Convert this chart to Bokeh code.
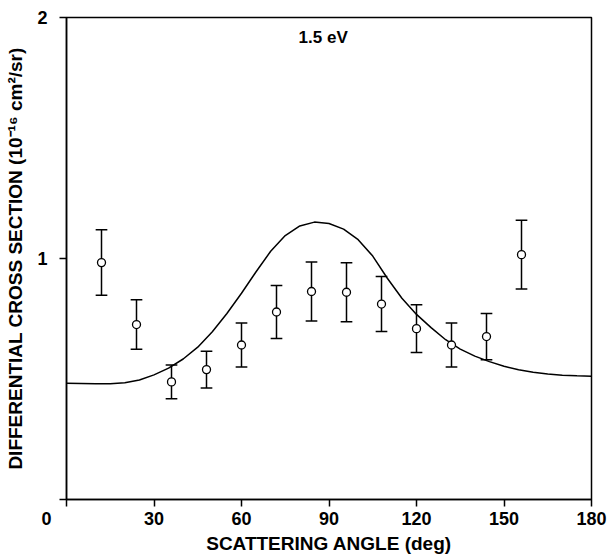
from bokeh.plotting import figure
from bokeh.models import Range1d, FixedTicker, Label
from bokeh.embed import file_html
from bokeh.resources import INLINE

# measured data points (scattering angle, deg)
angle = [12, 24, 36, 48, 60, 72, 84, 96, 108, 120, 132, 144, 156]
dcs = [0.983, 0.726, 0.488, 0.539, 0.641, 0.778, 0.863, 0.860, 0.811, 0.709, 0.641, 0.676, 1.016]
err = [0.136, 0.103, 0.070, 0.076, 0.091, 0.110, 0.122, 0.122, 0.114, 0.099, 0.091, 0.096, 0.143]

# theory curve
curve_angle = [0, 5, 10, 15, 20, 25, 30, 35, 40, 45, 50, 55, 60, 65, 70, 75, 80, 85, 90,
               95, 100, 105, 110, 115, 120, 125, 130, 135, 140, 145, 150, 155, 160, 165, 170, 175, 180]
curve_dcs = [0.482, 0.481, 0.480, 0.480, 0.484, 0.496, 0.517, 0.545, 0.583, 0.632, 0.696, 0.772,
             0.856, 0.945, 1.030, 1.095, 1.135, 1.151, 1.145, 1.122, 1.078, 1.010, 0.918, 0.835,
             0.768, 0.713, 0.663, 0.624, 0.595, 0.572, 0.553, 0.538, 0.528, 0.521, 0.516, 0.513, 0.511]

x_ticks = [0, 30, 60, 90, 120, 150, 180]
y_ticks = [0, 1, 2]

FONT = "Liberation Sans"

p = figure(width=608, height=556, output_backend="svg", toolbar_location=None,
           x_range=Range1d(0, 180), y_range=Range1d(0, 2),
           min_border_left=66, min_border_right=17, min_border_top=17, min_border_bottom=53)
p.background_fill_color = "white"
p.border_fill_color = "white"
p.outline_line_color = "black"
p.outline_line_width = 1.5
p.xgrid.visible = False
p.ygrid.visible = False

for ax in (p.xaxis[0], p.yaxis[0]):
    ax.axis_line_width = 1.5
    ax.axis_line_color = "black"
    ax.major_tick_line_width = 1.5
    ax.major_tick_line_color = "black"
    ax.major_tick_out = 7
    ax.major_tick_in = 0
    ax.minor_tick_line_color = None
    ax.major_label_text_font = FONT
    ax.major_label_text_font_size = "18px"
    ax.major_label_text_font_style = "bold"
    ax.major_label_text_color = "black"
    ax.axis_label_text_font = FONT
    ax.axis_label_text_font_size = "19px"
    ax.axis_label_text_font_style = "bold"
    ax.axis_label_text_color = "black"

p.xaxis.ticker = FixedTicker(ticks=x_ticks)
p.yaxis.ticker = FixedTicker(ticks=y_ticks)
# the "0" of the angle axis sits left of the corner: pad it with figure spaces
p.xaxis.major_label_overrides = {0: "0\u2007\u2007\u2007\u2007"}
p.yaxis.major_label_overrides = {0: ""}
p.xaxis.major_label_standoff = 2
p.yaxis.major_label_standoff = 12
p.xaxis.axis_label = "SCATTERING ANGLE (deg)"
p.yaxis.axis_label = "DIFFERENTIAL CROSS SECTION (10\u207b\u00b9\u2076 cm\u00b2/sr)"
p.xaxis.axis_label_standoff = 1
p.yaxis.axis_label_standoff = 8

# theory curve
p.line(curve_angle, curve_dcs, line_color="black", line_width=1.5)

# error bars
lo = [v - e for v, e in zip(dcs, err)]
hi = [v + e for v, e in zip(dcs, err)]
p.segment(x0=angle, y0=lo, x1=angle, y1=hi, line_color="black", line_width=1.5)
cap = 2.0
p.segment(x0=[a - cap for a in angle], y0=lo, x1=[a + cap for a in angle], y1=lo,
          line_color="black", line_width=1.5)
p.segment(x0=[a - cap for a in angle], y0=hi, x1=[a + cap for a in angle], y1=hi,
          line_color="black", line_width=1.5)

# data markers
p.scatter(angle, dcs, marker="circle", size=8, fill_color="white",
          line_color="black", line_width=1.3)

p.add_layout(Label(x=88, y=1.918, text="1.5 eV", text_align="center",
                   text_baseline="middle", text_font=FONT, text_font_size="17px",
                   text_font_style="bold", text_color="black"))

open("out.html", "w").write(file_html(p, INLINE))
